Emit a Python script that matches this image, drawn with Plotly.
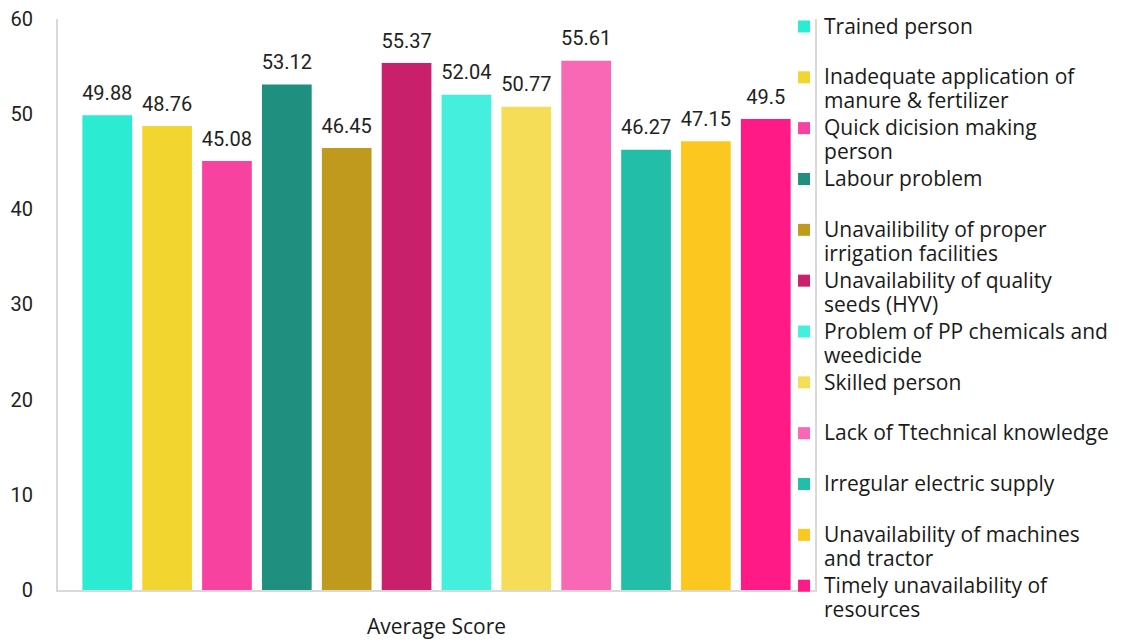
import plotly.graph_objects as go

# %%
# Data
category = "Average Score"
problems = [
    "Trained person",
    "Inadequate application of<br>manure & fertilizer",
    "Quick dicision making<br>person",
    "Labour problem",
    "Unavailibility of proper<br>irrigation facilities",
    "Unavailability of quality<br>seeds (HYV)",
    "Problem of PP chemicals and<br>weedicide",
    "Skilled person",
    "Lack of Ttechnical knowledge",
    "Irregular electric supply",
    "Unavailability of machines<br>and tractor",
    "Timely unavailability of<br>resources",
]
scores = [49.88, 48.76, 45.08, 53.12, 46.45, 55.37, 52.04, 50.77, 55.61, 46.27, 47.15, 49.5]
colors = [
    "#2cebd3", "#f3d530", "#f742a0", "#1f907f", "#bf9a1c", "#c8206a",
    "#45efdd", "#f5dd58", "#f868b4", "#22bea8", "#fcc820", "#ff1a86",
]


def legend_label(name):
    # bigger glyphs than the legend font, so the entry spacing stays tight;
    # single-line names get an empty second line like the reference
    lines = name.split("<br>")
    if len(lines) == 1:
        lines.append(" ")
    return "<br>".join("<span style='font-size:21px'>%s</span>" % ln for ln in lines)


# %%
fig = go.Figure()
for name, val, col in zip(problems, scores, colors):
    fig.add_trace(go.Bar(
        x=[category], y=[val], name=legend_label(name),
        marker=dict(color=col, line=dict(width=0)),
        # small blank second line lifts the value label a little off the bar
        text=[val], texttemplate="<span style='font-size:20px'>%{text}</span><br>\u00a0",
        textposition="outside", cliponaxis=False, constraintext="none",
        textfont=dict(family="Roboto", size=8, color="#222222"),
    ))

# page body has an 8px margin, so the figure is 8px smaller than the window
fig.update_layout(
    width=1119, height=632,
    margin=dict(l=50, r=312, t=0, b=50),
    paper_bgcolor="white", plot_bgcolor="white",
    barmode="group", bargap=0.051, bargroupgap=0.17,
    showlegend=True,
    legend=dict(
        x=0.9591, xanchor="left", y=1.0, yanchor="top",
        maxheight=632,
        valign="top", tracegroupgap=0,
        font=dict(family="Open Sans", size=18.4, color="#1a1a1a"),
        bgcolor="rgba(0,0,0,0)",
    ),
    xaxis=dict(
        showline=True, linecolor="#d9d9d9", linewidth=2,
        showgrid=False, ticks="", automargin=False,
        tickfont=dict(family="Open Sans", size=21, color="#1a1a1a"),
        ticklabelstandoff=17,
    ),
    yaxis=dict(
        range=[0, 60], dtick=10, domain=[0, 0.9811],
        showline=True, mirror=True, linecolor="#d9d9d9", linewidth=2,
        showgrid=False, zeroline=False, ticks="", automargin=False,
        ticklabeloverflow="allow",
        tickfont=dict(family="Roboto", size=20, color="#222222"),
        ticklabelstandoff=19,
    ),
)

fig.write_html("out.html")
